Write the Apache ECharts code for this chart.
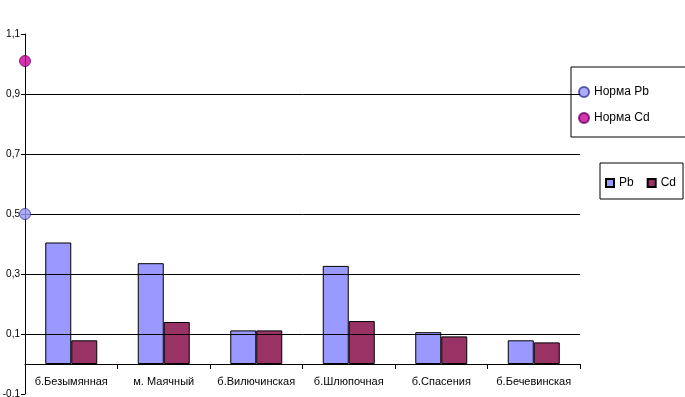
<!DOCTYPE html>
<html><head><meta charset="utf-8">
<script src="https://cdn.jsdelivr.net/npm/echarts@6/dist/echarts.min.js"></script>
<style>html,body{margin:0;padding:0;background:#fff}#c{width:685px;height:397px}</style>
</head><body><div id="c"></div>
<script>
const categories = ['б.Безымянная','м. Маячный','б.Вилючинская','б.Шлюпочная','б.Спасения','б.Бечевинская'];
const pbValues = [0.405, 0.336, 0.112, 0.327, 0.106, 0.079];
const cdValues = [0.079, 0.140, 0.112, 0.143, 0.092, 0.072];
const normPb = 0.5;
const normCd = 1.01;
const yTicks = [-0.1, 0.1, 0.3, 0.5, 0.7, 0.9, 1.1];
const gridValues = [0.1, 0.3, 0.5, 0.7, 0.9];

const font = 'Liberation Sans, Arial, sans-serif';
const chart = echarts.init(document.getElementById('c'));
chart.setOption({
  backgroundColor: '#fff',
  animation: false,
  textStyle: {fontFamily: font},
  grid: {left: 25, right: 105, top: 34, bottom: 3, containLabel: false,
    outerBounds: {left: -200, top: -200, right: -200, bottom: -200}},
  xAxis: [{
    type: 'category', data: categories, offset: -30,
    axisLine: {onZero: false, lineStyle: {color: '#000', width: 1}},
    axisTick: {show: true, length: 5, lineStyle: {color: '#000'}},
    axisLabel: {show: true, color: '#000', fontSize: 11, margin: 12, fontFamily: font, interval: 0},
    splitLine: {show: false}
  }, {
    type: 'value', min: 0, max: 1, show: false
  }],
  yAxis: {
    type: 'value', min: -0.1, max: 1.1,
    axisLine: {show: true, onZero: false, lineStyle: {color: '#000', width: 1}},
    axisTick: {show: true, length: 4, customValues: yTicks, lineStyle: {color: '#000'}},
    axisLabel: {color: '#000', fontSize: 10, margin: 5, fontFamily: font, customValues: yTicks,
      formatter: v => String(Math.round(v * 10) / 10).replace('.', ',')},
    splitLine: {show: false}
  },
  legend: [{
    data: ['Норма Pb', 'Норма Cd'],
    orient: 'vertical', left: 571, top: 67, width: 200,
    padding: [18, 36, 12, 7],
    itemWidth: 10, itemHeight: 10, itemGap: 12,
    icon: 'circle',
    backgroundColor: '#fff', borderColor: '#000', borderWidth: 1, borderRadius: 0,
    textStyle: {color: '#000', fontSize: 12, lineHeight: 14, fontFamily: font}
  }, {
    data: ['Pb', 'Cd'],
    orient: 'horizontal', left: 600, top: 163, width: 200,
    padding: [13, 7, 9, 5],
    itemWidth: 8, itemHeight: 8, itemGap: 13,
    icon: 'rect',
    backgroundColor: '#fff', borderColor: '#000', borderWidth: 1, borderRadius: 0,
    textStyle: {color: '#000', fontSize: 12, lineHeight: 14, fontFamily: font}
  }],
  series: [{
    name: 'Pb', type: 'bar', data: pbValues, barWidth: 26, barGap: '0%',
    itemStyle: {color: '#9999FF', borderColor: '#000', borderWidth: 1},
    markLine: {
      silent: true, symbol: 'none', label: {show: false},
      lineStyle: {color: '#000', width: 1, type: 'solid'},
      data: gridValues.map(v => ({yAxis: v}))
    },
    z: 2
  }, {
    name: 'Cd', type: 'bar', data: cdValues, barWidth: 26,
    itemStyle: {color: '#993366', borderColor: '#000', borderWidth: 1},
    z: 2
  }, {
    name: 'Норма Pb', type: 'scatter', xAxisIndex: 1, clip: false,
    data: [[0, normPb]], symbolSize: 11,
    itemStyle: {color: '#9999FF', borderColor: '#333399', borderWidth: 1},
    z: 5
  }, {
    name: 'Норма Cd', type: 'scatter', xAxisIndex: 1, clip: false,
    data: [[0, normCd]], symbolSize: 11,
    itemStyle: {color: '#CC0099', borderColor: '#660066', borderWidth: 1},
    z: 5
  }]
});
</script></body></html>
